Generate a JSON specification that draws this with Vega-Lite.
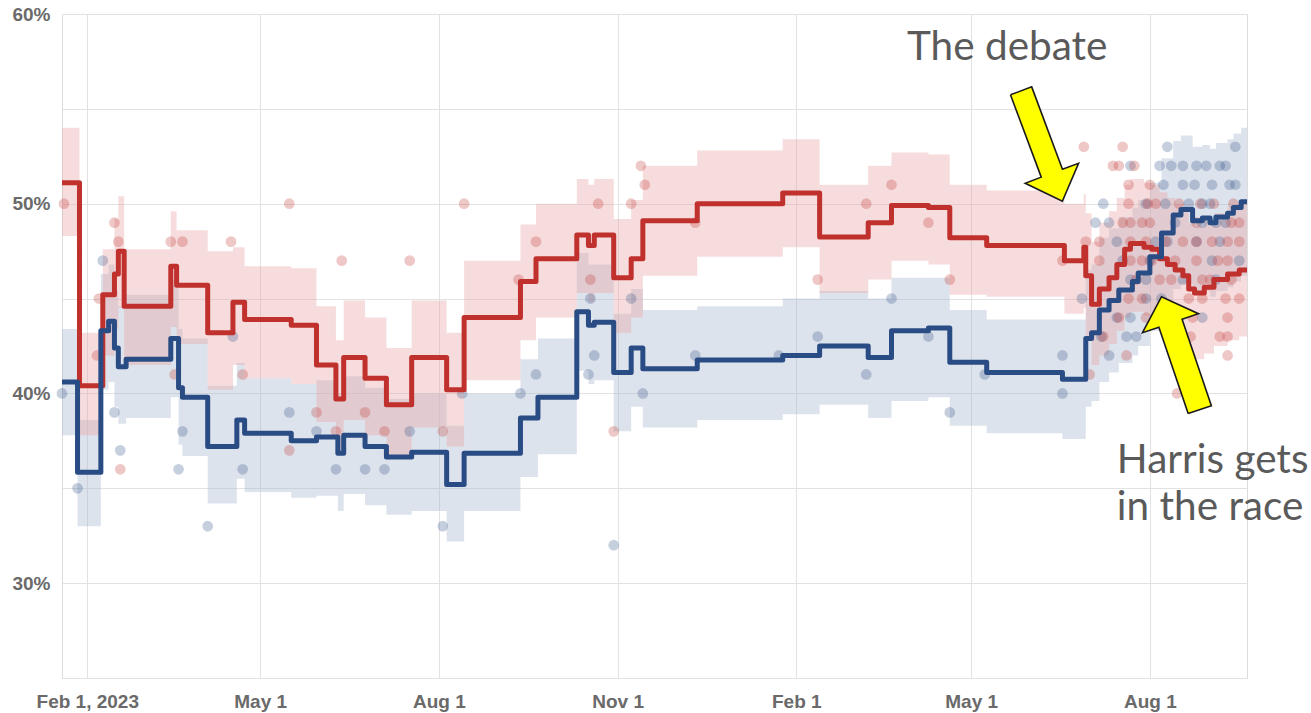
{
  "$schema": "https://vega.github.io/schema/vega-lite/v6.json",
  "width": 1185,
  "height": 664,
  "autosize": {"type": "none"},
  "padding": {"left": 62, "top": 14, "right": 64, "bottom": 35},
  "background": "white",
  "config": {
    "view": {"stroke": "#dcdcdc"},
    "axis": {"labelFont": "Liberation Sans", "labelFontWeight": "bold", "labelFontSize": 19, "labelColor": "#6a6a6a", "ticks": false, "domain": false, "gridColor": "#e2e2e2", "title": null, "labelOverlap": false, "labelFlush": false}
  },
  "datasets": {
    "series": [
      {"c":"R","d":"2023-01-19","v":51.1,"lo":48.3,"hi":54.0},
      {"c":"R","d":"2023-01-28","v":40.4,"lo":37.8,"hi":43.2},
      {"c":"R","d":"2023-02-09","v":45.2,"lo":42.0,"hi":47.6},
      {"c":"R","d":"2023-02-15","v":46.3,"lo":43.4,"hi":49.2},
      {"c":"R","d":"2023-02-17","v":47.5,"lo":44.5,"hi":50.4},
      {"c":"R","d":"2023-02-20","v":44.6,"lo":41.5,"hi":47.6},
      {"c":"R","d":"2023-03-16","v":46.7,"lo":43.5,"hi":49.6},
      {"c":"R","d":"2023-03-19","v":45.7,"lo":42.6,"hi":48.6},
      {"c":"R","d":"2023-04-04","v":43.2,"lo":40.2,"hi":47.5},
      {"c":"R","d":"2023-04-17","v":44.8,"lo":41.5,"hi":47.7},
      {"c":"R","d":"2023-04-23","v":43.9,"lo":40.8,"hi":46.7},
      {"c":"R","d":"2023-05-17","v":43.6,"lo":40.5,"hi":46.6},
      {"c":"R","d":"2023-05-30","v":41.5,"lo":38.5,"hi":44.6},
      {"c":"R","d":"2023-06-09","v":39.7,"lo":36.8,"hi":42.8},
      {"c":"R","d":"2023-06-13","v":41.9,"lo":38.6,"hi":44.9},
      {"c":"R","d":"2023-06-24","v":40.8,"lo":37.8,"hi":44.0},
      {"c":"R","d":"2023-07-05","v":39.4,"lo":36.6,"hi":42.4},
      {"c":"R","d":"2023-07-18","v":41.9,"lo":38.2,"hi":44.9},
      {"c":"R","d":"2023-08-05","v":40.2,"lo":37.2,"hi":43.2},
      {"c":"R","d":"2023-08-14","v":44.0,"lo":40.7,"hi":47.0},
      {"c":"R","d":"2023-09-12","v":45.9,"lo":42.8,"hi":48.9},
      {"c":"R","d":"2023-09-20","v":47.1,"lo":44.0,"hi":50.0},
      {"c":"R","d":"2023-10-11","v":48.35,"lo":45.3,"hi":51.3},
      {"c":"R","d":"2023-10-17","v":47.8,"lo":44.8,"hi":51.0},
      {"c":"R","d":"2023-10-20","v":48.35,"lo":45.3,"hi":51.3},
      {"c":"R","d":"2023-10-30","v":46.1,"lo":43.2,"hi":49.2},
      {"c":"R","d":"2023-11-08","v":47.1,"lo":44.0,"hi":50.2},
      {"c":"R","d":"2023-11-14","v":49.1,"lo":46.2,"hi":52.0},
      {"c":"R","d":"2023-12-12","v":50.0,"lo":47.2,"hi":52.8},
      {"c":"R","d":"2024-01-25","v":50.56,"lo":47.7,"hi":53.4},
      {"c":"R","d":"2024-02-13","v":48.25,"lo":45.3,"hi":51.0},
      {"c":"R","d":"2024-03-09","v":49.0,"lo":46.0,"hi":52.0},
      {"c":"R","d":"2024-03-21","v":49.9,"lo":47.0,"hi":52.7},
      {"c":"R","d":"2024-04-09","v":49.8,"lo":46.8,"hi":52.6},
      {"c":"R","d":"2024-04-20","v":48.2,"lo":45.2,"hi":51.0},
      {"c":"R","d":"2024-05-09","v":47.8,"lo":45.1,"hi":50.7},
      {"c":"R","d":"2024-06-18","v":47.0,"lo":44.2,"hi":50.0},
      {"c":"R","d":"2024-06-28","v":47.7,"lo":44.5,"hi":50.5},
      {"c":"R","d":"2024-06-29","v":46.2,"lo":43.0,"hi":49.5},
      {"c":"R","d":"2024-07-02","v":44.7,"lo":41.5,"hi":48.0},
      {"c":"R","d":"2024-07-06","v":45.5,"lo":42.0,"hi":49.0},
      {"c":"R","d":"2024-07-11","v":46.1,"lo":42.6,"hi":49.6},
      {"c":"R","d":"2024-07-15","v":46.8,"lo":43.3,"hi":50.3},
      {"c":"R","d":"2024-07-19","v":47.6,"lo":44.0,"hi":51.0},
      {"c":"R","d":"2024-07-22","v":47.9,"lo":44.3,"hi":51.3},
      {"c":"R","d":"2024-07-26","v":47.9,"lo":44.3,"hi":51.3},
      {"c":"R","d":"2024-07-29","v":47.7,"lo":44.1,"hi":51.1},
      {"c":"R","d":"2024-08-02","v":47.6,"lo":44.0,"hi":51.0},
      {"c":"R","d":"2024-08-06","v":47.1,"lo":43.5,"hi":50.6},
      {"c":"R","d":"2024-08-10","v":46.8,"lo":43.2,"hi":50.3},
      {"c":"R","d":"2024-08-14","v":46.5,"lo":42.9,"hi":50.0},
      {"c":"R","d":"2024-08-18","v":46.2,"lo":42.7,"hi":49.7},
      {"c":"R","d":"2024-08-21","v":45.5,"lo":42.0,"hi":49.0},
      {"c":"R","d":"2024-08-24","v":45.3,"lo":41.8,"hi":48.8},
      {"c":"R","d":"2024-08-29","v":45.6,"lo":42.1,"hi":49.1},
      {"c":"R","d":"2024-09-03","v":46.0,"lo":42.5,"hi":49.5},
      {"c":"R","d":"2024-09-10","v":46.3,"lo":42.8,"hi":49.8},
      {"c":"R","d":"2024-09-16","v":46.5,"lo":43.0,"hi":50.0},
      {"c":"R","d":"2024-09-20","v":46.5,"lo":43.0,"hi":50.0},
      {"c":"B","d":"2023-01-19","v":40.6,"lo":37.8,"hi":43.4},
      {"c":"B","d":"2023-01-27","v":35.85,"lo":33.0,"hi":38.6},
      {"c":"B","d":"2023-02-08","v":43.3,"lo":40.2,"hi":46.3},
      {"c":"B","d":"2023-02-12","v":43.8,"lo":40.6,"hi":46.8},
      {"c":"B","d":"2023-02-15","v":42.4,"lo":39.3,"hi":45.4},
      {"c":"B","d":"2023-02-17","v":41.4,"lo":38.4,"hi":44.6},
      {"c":"B","d":"2023-02-21","v":41.8,"lo":38.7,"hi":45.2},
      {"c":"B","d":"2023-03-16","v":42.9,"lo":39.8,"hi":46.0},
      {"c":"B","d":"2023-03-20","v":40.3,"lo":37.3,"hi":43.4},
      {"c":"B","d":"2023-03-22","v":39.8,"lo":36.7,"hi":42.9},
      {"c":"B","d":"2023-04-04","v":37.2,"lo":34.2,"hi":40.4},
      {"c":"B","d":"2023-04-19","v":38.6,"lo":35.5,"hi":41.6},
      {"c":"B","d":"2023-04-23","v":37.9,"lo":34.8,"hi":40.8},
      {"c":"B","d":"2023-05-17","v":37.5,"lo":34.5,"hi":40.5},
      {"c":"B","d":"2023-05-30","v":37.7,"lo":34.6,"hi":40.7},
      {"c":"B","d":"2023-06-10","v":36.85,"lo":33.8,"hi":40.0},
      {"c":"B","d":"2023-06-13","v":37.8,"lo":34.7,"hi":40.9},
      {"c":"B","d":"2023-06-24","v":37.2,"lo":34.1,"hi":40.3},
      {"c":"B","d":"2023-07-05","v":36.65,"lo":33.6,"hi":39.7},
      {"c":"B","d":"2023-07-18","v":36.9,"lo":33.8,"hi":40.0},
      {"c":"B","d":"2023-08-05","v":35.2,"lo":32.2,"hi":38.3},
      {"c":"B","d":"2023-08-14","v":36.85,"lo":33.8,"hi":40.0},
      {"c":"B","d":"2023-09-12","v":38.7,"lo":35.6,"hi":41.8},
      {"c":"B","d":"2023-09-21","v":39.8,"lo":36.8,"hi":42.9},
      {"c":"B","d":"2023-10-11","v":44.3,"lo":41.2,"hi":47.4},
      {"c":"B","d":"2023-10-17","v":43.6,"lo":40.5,"hi":46.8},
      {"c":"B","d":"2023-10-20","v":43.75,"lo":40.7,"hi":46.8},
      {"c":"B","d":"2023-10-30","v":41.1,"lo":38.0,"hi":44.2},
      {"c":"B","d":"2023-11-08","v":42.4,"lo":39.3,"hi":45.5},
      {"c":"B","d":"2023-11-14","v":41.3,"lo":38.2,"hi":44.4},
      {"c":"B","d":"2023-12-12","v":41.76,"lo":38.6,"hi":44.6},
      {"c":"B","d":"2024-01-25","v":42.0,"lo":38.9,"hi":45.0},
      {"c":"B","d":"2024-02-13","v":42.5,"lo":39.4,"hi":45.4},
      {"c":"B","d":"2024-03-09","v":41.9,"lo":38.7,"hi":45.0},
      {"c":"B","d":"2024-03-21","v":43.3,"lo":39.6,"hi":46.1},
      {"c":"B","d":"2024-04-09","v":43.45,"lo":39.8,"hi":46.1},
      {"c":"B","d":"2024-04-20","v":41.65,"lo":38.3,"hi":44.4},
      {"c":"B","d":"2024-05-09","v":41.1,"lo":37.9,"hi":43.9},
      {"c":"B","d":"2024-06-17","v":40.75,"lo":37.6,"hi":43.9},
      {"c":"B","d":"2024-06-29","v":42.9,"lo":39.3,"hi":46.5},
      {"c":"B","d":"2024-07-02","v":43.2,"lo":39.6,"hi":46.8},
      {"c":"B","d":"2024-07-06","v":44.4,"lo":40.6,"hi":48.2},
      {"c":"B","d":"2024-07-11","v":44.9,"lo":41.1,"hi":48.7},
      {"c":"B","d":"2024-07-16","v":45.45,"lo":41.6,"hi":49.3},
      {"c":"B","d":"2024-07-23","v":45.9,"lo":42.0,"hi":49.8},
      {"c":"B","d":"2024-07-26","v":46.35,"lo":42.5,"hi":50.2},
      {"c":"B","d":"2024-08-01","v":47.2,"lo":43.3,"hi":51.1},
      {"c":"B","d":"2024-08-07","v":48.45,"lo":44.5,"hi":52.4},
      {"c":"B","d":"2024-08-13","v":49.4,"lo":45.5,"hi":53.3},
      {"c":"B","d":"2024-08-17","v":49.7,"lo":45.8,"hi":53.6},
      {"c":"B","d":"2024-08-23","v":49.1,"lo":45.2,"hi":53.0},
      {"c":"B","d":"2024-08-28","v":49.25,"lo":45.4,"hi":53.1},
      {"c":"B","d":"2024-09-01","v":49.0,"lo":45.1,"hi":52.9},
      {"c":"B","d":"2024-09-04","v":49.3,"lo":45.4,"hi":53.2},
      {"c":"B","d":"2024-09-10","v":49.5,"lo":45.6,"hi":53.4},
      {"c":"B","d":"2024-09-13","v":49.8,"lo":45.9,"hi":53.7},
      {"c":"B","d":"2024-09-17","v":50.1,"lo":46.2,"hi":54.0},
      {"c":"B","d":"2024-09-20","v":50.1,"lo":46.2,"hi":54.0}
    ],
    "polls": [
      {"c":"R","d":"2023-01-20","v":50},{"c":"R","d":"2023-02-07","v":45},{"c":"R","d":"2023-02-06","v":42},
      {"c":"R","d":"2023-02-15","v":49},{"c":"R","d":"2023-02-17","v":48},{"c":"R","d":"2023-02-18","v":36},
      {"c":"R","d":"2023-03-16","v":48},{"c":"R","d":"2023-03-18","v":41},{"c":"R","d":"2023-03-22","v":48},
      {"c":"R","d":"2023-04-16","v":48},{"c":"R","d":"2023-04-22","v":41},{"c":"R","d":"2023-05-16","v":50},
      {"c":"R","d":"2023-05-16","v":37},{"c":"R","d":"2023-05-30","v":39},{"c":"R","d":"2023-06-09","v":38},
      {"c":"R","d":"2023-06-12","v":47},{"c":"R","d":"2023-06-24","v":39},{"c":"R","d":"2023-07-04","v":38},
      {"c":"R","d":"2023-07-17","v":47},{"c":"R","d":"2023-08-03","v":38},{"c":"R","d":"2023-08-14","v":50},
      {"c":"R","d":"2023-09-11","v":46},{"c":"R","d":"2023-09-20","v":48},{"c":"R","d":"2023-10-18","v":46},
      {"c":"R","d":"2023-10-22","v":50},{"c":"R","d":"2023-10-30","v":38},{"c":"R","d":"2023-11-08","v":50},
      {"c":"R","d":"2023-11-13","v":52},{"c":"R","d":"2023-11-15","v":51},{"c":"R","d":"2023-12-11","v":49},
      {"c":"R","d":"2024-02-12","v":46},{"c":"R","d":"2024-03-08","v":50},{"c":"R","d":"2024-03-21","v":51},
      {"c":"R","d":"2024-04-09","v":49},{"c":"R","d":"2024-04-20","v":46},{"c":"R","d":"2024-06-17","v":47},
      {"c":"R","d":"2024-06-28","v":53},{"c":"R","d":"2024-06-29","v":48},
      {"c":"R","d":"2024-07-18","v":53},
      {"c":"R","d":"2024-07-13","v":52},{"c":"R","d":"2024-07-16","v":52},{"c":"R","d":"2024-07-24","v":52},
      {"c":"R","d":"2024-07-21","v":51},{"c":"R","d":"2024-08-01","v":51},
      {"c":"R","d":"2024-07-21","v":50},{"c":"R","d":"2024-07-31","v":50},{"c":"R","d":"2024-08-04","v":50},{"c":"R","d":"2024-08-16","v":50},{"c":"R","d":"2024-08-27","v":50},{"c":"R","d":"2024-09-03","v":50},{"c":"R","d":"2024-09-13","v":50},
      {"c":"R","d":"2024-07-18","v":49},{"c":"R","d":"2024-07-22","v":49},{"c":"R","d":"2024-07-28","v":49},{"c":"R","d":"2024-08-01","v":49},{"c":"R","d":"2024-08-25","v":49},{"c":"R","d":"2024-09-12","v":49},{"c":"R","d":"2024-09-16","v":49},
      {"c":"R","d":"2024-07-06","v":48},{"c":"R","d":"2024-07-22","v":48},{"c":"R","d":"2024-07-30","v":48},{"c":"R","d":"2024-08-09","v":48},{"c":"R","d":"2024-08-18","v":48},{"c":"R","d":"2024-08-25","v":48},{"c":"R","d":"2024-09-02","v":48},{"c":"R","d":"2024-09-10","v":48},{"c":"R","d":"2024-09-16","v":48},
      {"c":"R","d":"2024-07-06","v":47},{"c":"R","d":"2024-07-22","v":47},{"c":"R","d":"2024-07-28","v":47},{"c":"R","d":"2024-08-02","v":47},{"c":"R","d":"2024-08-14","v":47},{"c":"R","d":"2024-08-25","v":47},{"c":"R","d":"2024-09-05","v":47},{"c":"R","d":"2024-09-10","v":47},
      {"c":"R","d":"2024-07-25","v":46},{"c":"R","d":"2024-08-06","v":46},{"c":"R","d":"2024-08-12","v":46},{"c":"R","d":"2024-08-28","v":46},{"c":"R","d":"2024-09-01","v":46},{"c":"R","d":"2024-09-12","v":46},
      {"c":"R","d":"2024-07-21","v":45},{"c":"R","d":"2024-07-28","v":45},{"c":"R","d":"2024-08-21","v":45},{"c":"R","d":"2024-08-28","v":45},{"c":"R","d":"2024-09-09","v":45},{"c":"R","d":"2024-09-16","v":45},
      {"c":"R","d":"2024-07-16","v":44},{"c":"R","d":"2024-07-30","v":44},{"c":"R","d":"2024-08-23","v":44},{"c":"R","d":"2024-09-10","v":44},
      {"c":"R","d":"2024-07-08","v":43},{"c":"R","d":"2024-08-22","v":43},{"c":"R","d":"2024-09-06","v":43},{"c":"R","d":"2024-09-10","v":43},
      {"c":"R","d":"2024-07-20","v":42},{"c":"R","d":"2024-09-10","v":42},{"c":"R","d":"2024-07-01","v":41},{"c":"R","d":"2024-08-15","v":40},
      {"c":"B","d":"2023-01-19","v":40},{"c":"B","d":"2023-01-27","v":35},{"c":"B","d":"2023-02-09","v":47},
      {"c":"B","d":"2023-02-15","v":39},{"c":"B","d":"2023-02-18","v":37},{"c":"B","d":"2023-03-20","v":36},
      {"c":"B","d":"2023-03-22","v":38},{"c":"B","d":"2023-04-04","v":33},{"c":"B","d":"2023-04-17","v":43},
      {"c":"B","d":"2023-04-22","v":36},{"c":"B","d":"2023-05-16","v":39},{"c":"B","d":"2023-05-30","v":38},
      {"c":"B","d":"2023-06-09","v":36},{"c":"B","d":"2023-06-24","v":36},{"c":"B","d":"2023-07-04","v":36},
      {"c":"B","d":"2023-07-17","v":38},{"c":"B","d":"2023-08-03","v":33},{"c":"B","d":"2023-08-13","v":40},
      {"c":"B","d":"2023-09-12","v":40},{"c":"B","d":"2023-09-20","v":41},{"c":"B","d":"2023-10-17","v":41},
      {"c":"B","d":"2023-10-18","v":45},{"c":"B","d":"2023-10-20","v":42},{"c":"B","d":"2023-10-30","v":32},
      {"c":"B","d":"2023-11-08","v":45},{"c":"B","d":"2023-11-14","v":40},{"c":"B","d":"2023-12-11","v":42},
      {"c":"B","d":"2024-01-23","v":42},{"c":"B","d":"2024-02-12","v":43},{"c":"B","d":"2024-03-08","v":41},
      {"c":"B","d":"2024-03-21","v":45},{"c":"B","d":"2024-04-09","v":43},{"c":"B","d":"2024-04-20","v":39},
      {"c":"B","d":"2024-05-08","v":41},{"c":"B","d":"2024-06-17","v":42},{"c":"B","d":"2024-06-17","v":40},
      {"c":"B","d":"2024-08-10","v":53},{"c":"B","d":"2024-09-14","v":53},
      {"c":"B","d":"2024-08-06","v":52},{"c":"B","d":"2024-08-12","v":52},{"c":"B","d":"2024-08-25","v":52},{"c":"B","d":"2024-09-09","v":52},{"c":"B","d":"2024-07-22","v":52},{"c":"B","d":"2024-08-18","v":52},{"c":"B","d":"2024-08-30","v":52},{"c":"B","d":"2024-09-06","v":52},
      {"c":"B","d":"2024-08-08","v":51},{"c":"B","d":"2024-08-18","v":51},{"c":"B","d":"2024-08-24","v":51},{"c":"B","d":"2024-09-02","v":51},{"c":"B","d":"2024-09-11","v":51},{"c":"B","d":"2024-09-14","v":51},
      {"c":"B","d":"2024-07-08","v":50},{"c":"B","d":"2024-07-30","v":50},{"c":"B","d":"2024-08-09","v":50},{"c":"B","d":"2024-08-21","v":50},{"c":"B","d":"2024-08-28","v":50},{"c":"B","d":"2024-09-01","v":50},
      {"c":"B","d":"2024-07-04","v":49},{"c":"B","d":"2024-07-11","v":49},{"c":"B","d":"2024-08-14","v":49},{"c":"B","d":"2024-08-28","v":49},{"c":"B","d":"2024-09-04","v":49},{"c":"B","d":"2024-09-09","v":49},
      {"c":"B","d":"2024-07-15","v":48},{"c":"B","d":"2024-08-04","v":48},{"c":"B","d":"2024-08-10","v":48},{"c":"B","d":"2024-08-25","v":48},{"c":"B","d":"2024-09-06","v":48},
      {"c":"B","d":"2024-07-18","v":47},{"c":"B","d":"2024-08-01","v":47},{"c":"B","d":"2024-09-02","v":47},{"c":"B","d":"2024-09-16","v":47},
      {"c":"B","d":"2024-07-22","v":46},{"c":"B","d":"2024-07-30","v":46},{"c":"B","d":"2024-08-18","v":46},{"c":"B","d":"2024-09-04","v":46},
      {"c":"B","d":"2024-06-27","v":45},{"c":"B","d":"2024-07-30","v":45},{"c":"B","d":"2024-08-07","v":45},
      {"c":"B","d":"2024-07-15","v":44},{"c":"B","d":"2024-07-22","v":44},{"c":"B","d":"2024-08-28","v":44},
      {"c":"B","d":"2024-07-07","v":43},{"c":"B","d":"2024-07-20","v":43},{"c":"B","d":"2024-07-25","v":43},
      {"c":"B","d":"2024-07-11","v":42}
    ],
    "arrows": [
      {"a":"debate","i":1,"d":"2024-05-21T06:00:00Z","v":55.74},
      {"a":"debate","i":2,"d":"2024-06-01T04:00:00Z","v":56.16},
      {"a":"debate","i":3,"d":"2024-06-17T00:00:00Z","v":51.82},
      {"a":"debate","i":4,"d":"2024-06-25T07:00:00Z","v":52.13},
      {"a":"debate","i":5,"d":"2024-06-16T23:00:00Z","v":50.13},
      {"a":"debate","i":6,"d":"2024-05-28T20:00:00Z","v":51.08},
      {"a":"debate","i":7,"d":"2024-06-06T02:00:00Z","v":51.40},
      {"a":"debate","i":8,"d":"2024-05-21T06:00:00Z","v":55.74},
      {"a":"harris","i":1,"d":"2024-08-20T17:00:00Z","v":38.94},
      {"a":"harris","i":2,"d":"2024-09-01T16:00:00Z","v":39.35},
      {"a":"harris","i":3,"d":"2024-08-17T14:00:00Z","v":43.91},
      {"a":"harris","i":4,"d":"2024-08-26T00:00:00Z","v":44.20},
      {"a":"harris","i":5,"d":"2024-08-06T23:30:00Z","v":45.10},
      {"a":"harris","i":6,"d":"2024-07-28T05:00:00Z","v":43.20},
      {"a":"harris","i":7,"d":"2024-08-05T15:30:00Z","v":43.49},
      {"a":"harris","i":8,"d":"2024-08-20T17:00:00Z","v":38.94}
    ],
    "notes": [
      {"d":"2024-03-29","v":57.58,"t":"The debate"},
      {"d":"2024-07-15","v":35.8,"t":"Harris gets"},
      {"d":"2024-07-15","v":33.33,"t":"in the race"}
    ]
  },
  "layer": [
    {
      "data": {"name": "series"},
      "transform": [{"filter": "datum.c == 'B'"}],
      "mark": {"type": "area", "interpolate": "step-after", "fill": "#a9b8d0", "opacity": 0.4},
      "encoding": {
        "x": {
          "field": "d", "type": "temporal", "title": null,
          "scale": {"type": "utc", "domain": [{"year": 2023, "month": 1, "date": 19, "utc": true}, {"year": 2024, "month": 9, "date": 20, "utc": true}]},
          "axis": {
            "values": [
              {"year": 2023, "month": 2, "date": 1, "utc": true},
              {"year": 2023, "month": 5, "date": 1, "utc": true},
              {"year": 2023, "month": 8, "date": 1, "utc": true},
              {"year": 2023, "month": 11, "date": 1, "utc": true},
              {"year": 2024, "month": 2, "date": 1, "utc": true},
              {"year": 2024, "month": 5, "date": 1, "utc": true},
              {"year": 2024, "month": 8, "date": 1, "utc": true}
            ],
            "labelExpr": "utcyear(datum.value) == 2023 && utcmonth(datum.value) == 1 ? 'Feb 1, 2023' : utcFormat(datum.value, '%b %-d')",
            "labelPadding": 14,
            "grid": true
          }
        },
        "y": {
          "field": "lo", "type": "quantitative", "title": null,
          "scale": {"domain": [25, 60], "nice": false, "zero": false},
          "axis": {"values": [25, 30, 35, 40, 45, 50, 55, 60], "labelExpr": "datum.value % 10 == 0 ? datum.value + '%' : ''", "labelPadding": 12, "grid": true}
        },
        "y2": {"field": "hi"}
      }
    },
    {
      "data": {"name": "series"},
      "transform": [{"filter": "datum.c == 'R'"}],
      "mark": {"type": "area", "interpolate": "step-after", "fill": "#e8a8a8", "opacity": 0.4},
      "encoding": {
        "x": {"field": "d", "type": "temporal", "title": null},
        "y": {"field": "lo", "type": "quantitative", "title": null},
        "y2": {"field": "hi"}
      }
    },
    {
      "data": {"name": "polls"},
      "transform": [{"filter": "datum.c == 'B'"}],
      "mark": {"type": "circle", "size": 115, "color": "#2b4d86", "opacity": 0.27},
      "encoding": {
        "x": {"field": "d", "type": "temporal", "title": null},
        "y": {"field": "v", "type": "quantitative", "title": null}
      }
    },
    {
      "data": {"name": "polls"},
      "transform": [{"filter": "datum.c == 'R'"}],
      "mark": {"type": "circle", "size": 115, "color": "#c23b36", "opacity": 0.28},
      "encoding": {
        "x": {"field": "d", "type": "temporal", "title": null},
        "y": {"field": "v", "type": "quantitative", "title": null}
      }
    },
    {
      "data": {"name": "series"},
      "transform": [{"filter": "datum.c == 'R'"}],
      "mark": {"type": "line", "interpolate": "step-after", "color": "#c0302c", "strokeWidth": 5, "strokeJoin": "round"},
      "encoding": {
        "x": {"field": "d", "type": "temporal", "title": null},
        "y": {"field": "v", "type": "quantitative", "title": null}
      }
    },
    {
      "data": {"name": "series"},
      "transform": [{"filter": "datum.c == 'B'"}],
      "mark": {"type": "line", "interpolate": "step-after", "color": "#2a4c84", "strokeWidth": 5, "strokeJoin": "round"},
      "encoding": {
        "x": {"field": "d", "type": "temporal", "title": null},
        "y": {"field": "v", "type": "quantitative", "title": null}
      }
    },
    {
      "data": {"name": "arrows"},
      "mark": {"type": "line", "fill": "#ffff00", "stroke": "#1a1a1a", "strokeWidth": 1.6, "strokeJoin": "miter"},
      "encoding": {
        "x": {"field": "d", "type": "temporal", "title": null},
        "y": {"field": "v", "type": "quantitative", "title": null},
        "detail": {"field": "a"},
        "order": {"field": "i", "type": "quantitative"}
      }
    },
    {
      "data": {"name": "notes"},
      "mark": {"type": "text", "font": "Lato", "fontSize": 40.5, "color": "#5a5a5a", "align": "left", "baseline": "alphabetic"},
      "encoding": {
        "x": {"field": "d", "type": "temporal", "title": null},
        "y": {"field": "v", "type": "quantitative", "title": null},
        "text": {"field": "t"}
      }
    }
  ]
}
